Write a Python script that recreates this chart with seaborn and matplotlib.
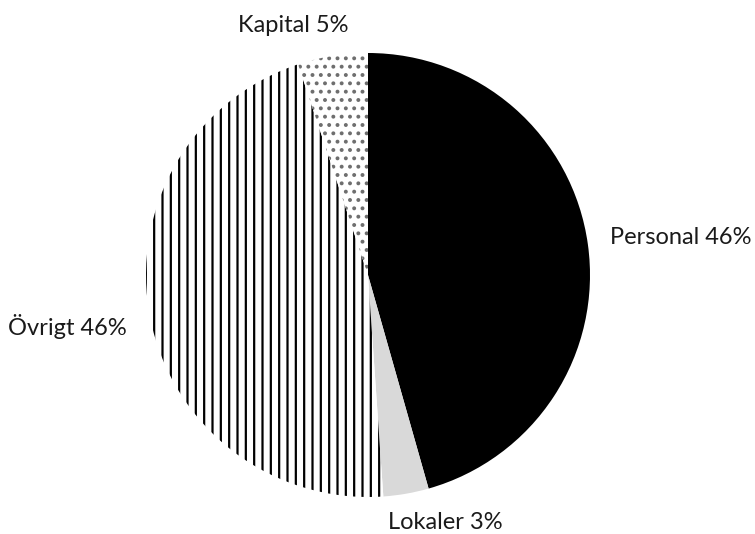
import matplotlib
matplotlib.use("Agg")
import matplotlib.pyplot as plt
import seaborn as sns

sns.set_theme(style="white")
plt.rcParams["font.family"] = ["Lato", "DejaVu Sans"]
plt.rcParams["hatch.linewidth"] = 1.6

# Data
categories = ["Personal", "Lokaler", "Övrigt", "Kapital"]
shares = [45.6, 3.3, 46.0, 5.1]
label_pct = [46, 3, 46, 5]

colors = ["black", "#d9d9d9", "white", "white"]
hatches = ["", "", "||", ".."]
hatch_colors = ["black", "black", "black", "#6e6e6e"]

fig = plt.figure(figsize=(7.55, 5.34), dpi=100)
W, H = 755, 534
cx, cy, r = 368, 275, 222
ax = fig.add_axes([(cx - r) / W, (H - cy - r) / H, 2 * r / W, 2 * r / H])

wedges, _ = ax.pie(
    shares,
    colors=colors,
    startangle=90,
    counterclock=False,
    wedgeprops=dict(linewidth=0),
)
for w, h, hc in zip(wedges, hatches, hatch_colors):
    w.set_hatch(h)
    w.set_edgecolor(hc)
    w.set_linewidth(0)

ax.set_xlim(-1, 1)
ax.set_ylim(-1, 1)
ax.set_aspect("equal")
ax.axis("off")

# label placement (data units, radius = 1)
label_pos = {
    "Personal": (1.09, 0.167, "left"),
    "Lokaler": (0.09, -1.115, "left"),
    "Övrigt": (-1.085, -0.234, "right"),
    "Kapital": (-0.335, 1.122, "center"),
}
for cat, pct in zip(categories, label_pct):
    x, y, ha = label_pos[cat]
    ax.text(x, y, f"{cat} {pct}%", ha=ha, va="center", fontsize=17,
            color="#1a1a1a", clip_on=False)

fig.savefig("out.png", dpi=100, facecolor="white")
